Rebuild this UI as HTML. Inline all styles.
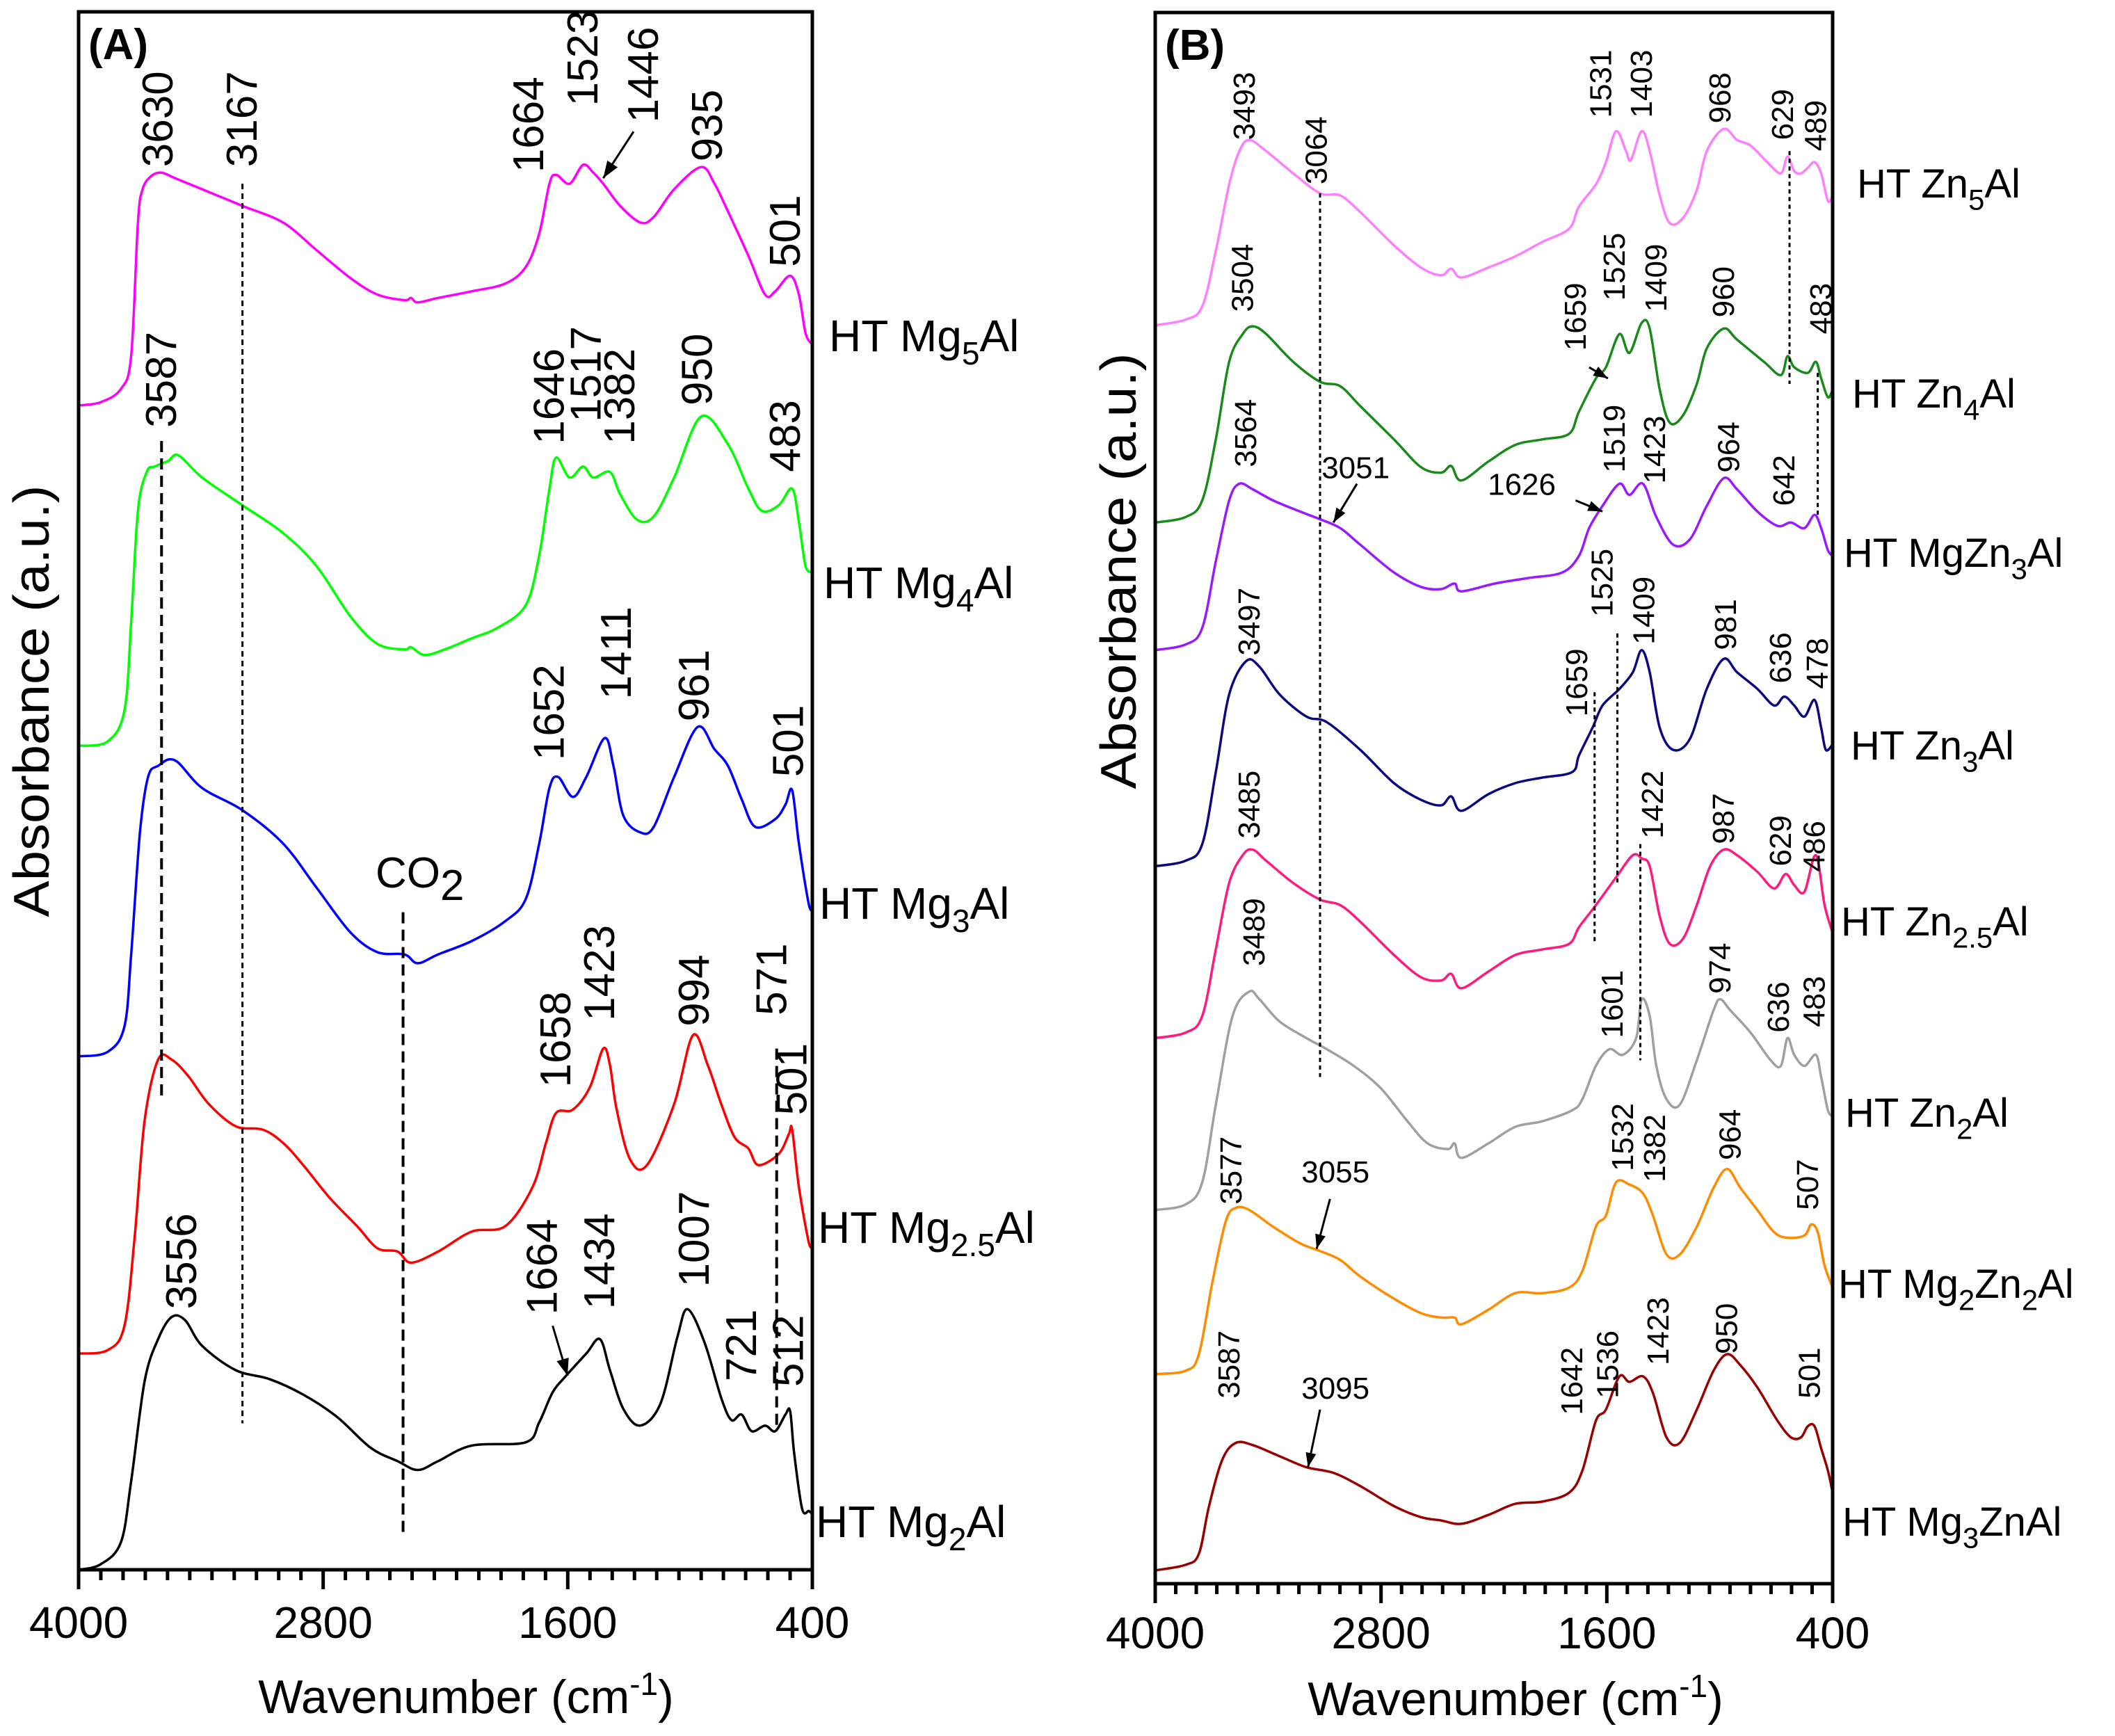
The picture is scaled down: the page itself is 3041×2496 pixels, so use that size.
<!DOCTYPE html>
<html><head><meta charset="utf-8"><style>
html,body{margin:0;padding:0;background:#fff;}
svg{display:block;}
text{font-family:"Liberation Sans",Arial,sans-serif;fill:#000;}
</style></head><body>
<svg id="chart" width="3041" height="2496" viewBox="0 0 3041 2496" xmlns="http://www.w3.org/2000/svg">
<rect x="0" y="0" width="3041" height="2496" fill="#fff"/>
<g id="panelA"></g>
<g id="panelB"></g>
</svg>
<script>
// ---------- Panel A data ----------
const aMg5W=[4000,3891,3792,3742,3709,3686,3643,3593,3527,3394,3196,2997,2832,2667,2534,2402,2369,2336,2236,2071,1906,1806,1740,1690,1657,1591,1525,1475,1426,1343,1244,1178,1078,946,880,814,714,632,582,509,466,433,400];
const aMg5V=[10.50,10.53,10.65,10.95,12.15,12.45,12.57,12.60,12.55,12.45,12.30,12.15,11.90,11.65,11.50,11.45,11.47,11.43,11.47,11.53,11.60,11.75,12.05,12.50,12.58,12.50,12.67,12.60,12.50,12.30,12.15,12.20,12.45,12.65,12.50,12.25,11.85,11.50,11.53,11.67,11.50,11.15,11.05];
const aMg4W=[4000,3858,3775,3742,3709,3666,3626,3560,3510,3394,3196,2997,2832,2667,2534,2402,2369,2303,2203,2071,1939,1806,1740,1690,1657,1591,1525,1475,1393,1343,1260,1178,1078,946,814,714,648,565,499,466,433,400];
const aMg4V=[7.43,7.47,7.75,8.55,9.55,9.90,9.95,10.00,10.05,9.85,9.60,9.35,9.05,8.60,8.35,8.30,8.32,8.25,8.30,8.40,8.50,8.70,9.15,9.75,10.03,9.85,9.95,9.85,9.90,9.70,9.47,9.50,9.85,10.40,10.15,9.75,9.55,9.60,9.75,9.45,9.05,9.00];
const aMg3W=[4000,3858,3775,3742,3699,3659,3610,3527,3394,3196,2997,2832,2667,2534,2402,2336,2236,2071,1906,1806,1740,1690,1647,1575,1509,1419,1376,1327,1244,1178,1078,963,880,814,747,681,582,532,499,466,417,400];
const aMg3V=[4.63,4.67,4.90,5.55,6.65,7.15,7.25,7.30,7.05,6.85,6.55,6.15,5.75,5.57,5.55,5.47,5.55,5.67,5.85,6.05,6.55,7.05,7.15,6.97,7.15,7.50,7.25,6.80,6.65,6.70,7.15,7.60,7.40,7.25,6.95,6.70,6.77,6.90,7.03,6.55,6.00,5.97];
const aMg25W=[4000,3858,3775,3725,3676,3610,3543,3461,3361,3229,3097,2997,2898,2766,2634,2534,2435,2369,2236,2071,1906,1773,1707,1657,1575,1492,1426,1393,1360,1294,1211,1078,986,913,847,781,714,665,565,515,499,466,417,400];
const aMg25V=[1.95,1.98,2.20,3.00,4.05,4.60,4.60,4.45,4.20,4.00,3.97,3.85,3.65,3.35,3.10,2.90,2.87,2.77,2.87,3.05,3.10,3.45,3.85,4.12,4.15,4.35,4.70,4.55,4.15,3.70,3.65,4.20,4.82,4.55,4.20,3.90,3.80,3.65,3.75,3.93,3.97,3.45,2.95,2.93];
const aMg2W=[4000,3891,3792,3742,3676,3610,3543,3477,3394,3229,3064,2898,2733,2567,2435,2336,2236,2071,1806,1740,1674,1608,1509,1442,1393,1327,1244,1145,1062,1012,929,847,797,747,698,632,582,532,509,489,450,417,400];
const aMg2V=[0,0.05,0.25,0.80,1.70,2.08,2.28,2.25,2.02,1.80,1.72,1.58,1.38,1.10,0.98,0.90,0.98,1.12,1.15,1.33,1.60,1.75,1.95,2.08,1.80,1.45,1.30,1.50,2.10,2.35,2.05,1.55,1.35,1.40,1.25,1.30,1.25,1.40,1.43,1.05,0.55,0.53,0.50];

// ---------- Panel B data ----------
const bZn5W=[4000,3839,3750,3678,3607,3553,3500,3410,3267,3124,3017,2910,2731,2588,2481,2427,2373,2230,2087,1944,1801,1748,1658,1605,1551,1498,1472,1415,1372,1319,1265,1194,1122,1069,979,908,836,747,675,640,604,568,532,496,461,425,400];
const bZn5V=[11.35,11.40,11.52,12.02,12.62,12.92,13.02,12.92,12.72,12.54,12.52,12.37,12.07,11.87,11.80,11.86,11.78,11.87,11.97,12.10,12.22,12.42,12.62,12.82,13.10,12.92,12.84,13.10,12.92,12.52,12.27,12.32,12.57,12.92,13.12,13.02,12.97,12.82,12.72,12.87,12.74,12.72,12.77,12.82,12.72,12.47,12.52];
const bZn4W=[4000,3839,3750,3678,3607,3535,3482,3410,3267,3124,3017,2910,2731,2588,2481,2427,2373,2230,2087,1944,1801,1748,1658,1605,1533,1480,1415,1372,1319,1265,1194,1122,1069,979,908,765,675,640,604,532,489,461,425,400];
const bZn4V=[9.57,9.62,9.77,10.32,11.02,11.27,11.34,11.27,11.02,10.84,10.80,10.62,10.32,10.07,10.02,10.08,9.95,10.12,10.27,10.32,10.37,10.57,10.87,10.97,11.27,11.10,11.37,11.32,10.77,10.47,10.54,10.82,11.14,11.32,11.22,11.02,10.90,11.07,10.97,10.92,11.02,10.87,10.70,10.77];
const bMgZn3W=[4000,3839,3750,3678,3607,3553,3482,3374,3231,3124,3017,2910,2731,2588,2481,2409,2373,2195,2016,1837,1748,1694,1623,1533,1480,1408,1337,1247,1158,1069,979,908,800,693,622,550,496,461,425,400];
const bMgZn3V=[8.42,8.47,8.62,9.22,9.77,9.92,9.87,9.77,9.67,9.60,9.52,9.37,9.12,8.99,8.97,9.02,8.95,9.02,9.07,9.12,9.27,9.52,9.72,9.92,9.82,9.92,9.62,9.37,9.42,9.72,9.97,9.87,9.67,9.54,9.57,9.52,9.64,9.52,9.32,9.27];
const bZn3W=[4000,3839,3750,3678,3607,3517,3446,3339,3196,3088,2910,2731,2588,2481,2427,2373,2230,2087,1944,1784,1748,1676,1623,1533,1462,1415,1372,1319,1247,1158,1069,979,908,800,711,657,604,550,496,461,436,400];
const bZn3V=[6.47,6.52,6.67,7.32,8.02,8.32,8.27,8.02,7.82,7.77,7.52,7.22,7.07,7.02,7.10,6.97,7.12,7.22,7.27,7.32,7.47,7.72,7.92,8.07,8.22,8.42,8.22,7.72,7.52,7.62,8.07,8.34,8.22,8.07,7.92,8.00,7.92,7.82,7.97,7.72,7.52,7.57];
const bZn25W=[4000,3839,3750,3678,3607,3535,3482,3410,3267,3124,3017,2910,2731,2588,2481,2427,2373,2230,2087,1944,1801,1748,1658,1551,1462,1415,1372,1319,1265,1194,1122,1051,979,908,800,711,650,604,550,489,443,400];
const bZn25V=[4.92,4.97,5.12,5.72,6.32,6.57,6.62,6.52,6.32,6.17,6.12,5.97,5.67,5.47,5.44,5.50,5.37,5.52,5.67,5.72,5.77,5.92,6.12,6.37,6.57,6.54,6.47,6.02,5.77,5.82,6.12,6.47,6.62,6.57,6.42,6.27,6.40,6.30,6.24,6.57,6.12,5.87];
const bZn2W=[4000,3839,3750,3678,3589,3500,3446,3339,3196,3088,2945,2802,2659,2552,2445,2409,2373,2230,2087,1944,1784,1730,1658,1587,1515,1444,1415,1372,1337,1283,1212,1122,1033,997,943,836,729,675,640,604,550,489,461,425,400];
const bZn2V=[3.37,3.42,3.62,4.32,5.12,5.34,5.27,5.07,4.92,4.82,4.67,4.47,4.17,3.97,3.92,3.97,3.84,3.97,4.12,4.17,4.27,4.37,4.67,4.82,4.77,4.92,5.27,5.12,4.67,4.37,4.32,4.72,5.17,5.27,5.17,4.97,4.72,4.67,4.92,4.77,4.67,4.77,4.57,4.27,4.22];
const bMg2Zn2W=[4000,3839,3768,3696,3625,3571,3500,3374,3231,3124,3017,2910,2731,2588,2481,2409,2373,2230,2087,1944,1801,1730,1658,1605,1551,1480,1408,1355,1283,1212,1122,1033,961,890,800,711,640,550,514,479,443,400];
const bMg2Zn2V=[1.89,1.92,2.07,2.72,3.27,3.39,3.37,3.22,3.07,3.00,2.92,2.77,2.57,2.44,2.40,2.40,2.34,2.47,2.62,2.62,2.67,2.82,3.22,3.32,3.62,3.60,3.52,3.32,2.97,2.97,3.22,3.57,3.74,3.57,3.37,3.17,3.12,3.14,3.24,3.17,2.87,2.67];
const bMg3ZnW=[4000,3839,3768,3714,3643,3571,3482,3339,3196,3053,2910,2731,2588,2481,2373,2230,2087,1944,1801,1730,1658,1605,1533,1480,1408,1355,1283,1212,1122,1033,961,890,800,693,622,568,532,496,461,425,400];
const bMg3ZnV=[0.12,0.17,0.27,0.70,1.12,1.27,1.25,1.15,1.05,1.00,0.88,0.70,0.60,0.57,0.54,0.62,0.72,0.74,0.82,1.02,1.47,1.57,1.87,1.82,1.87,1.72,1.32,1.27,1.57,1.92,2.07,1.97,1.77,1.47,1.32,1.32,1.42,1.42,1.22,1.02,0.82];

const xTicks=[4000,2800,1600,400];
const xTickLabels=["4000","2800","1600","400"];

// peak labels: [text, wavenumber, value]
const aPeaks=[["3630",3610,12.65],["3167",3196,12.65],["1664",1790,12.60],["1523",1525,13.20],["1446",1227,13.05],["935",913,12.70],["501",532,11.75],
["3587",3593,10.30],["1646",1690,10.15],["1517",1509,10.35],["1382",1343,10.15],["950",963,10.50],["483",532,9.90],
["1652",1690,7.30],["1411",1360,7.85],["961",979,7.65],["501",516,7.15],
["1658",1657,4.35],["1423",1442,4.95],["994",979,4.90],["571",598,5.00],["501",499,4.10],
["3556",3494,2.35],["1664",1724,2.30],["1434",1442,2.35],["1007",979,2.55],["721",747,1.70],["512",516,1.65]];
const bPeaks=[["3493",3525,13.02],["3064",3142,12.62],["1531",1630,13.22],["1403",1415,13.22],["968",997,13.17],["629",665,13.02],["489",489,12.92],
["3504",3535,11.47],["1659",1766,11.12],["1525",1558,11.57],["1409",1337,11.47],["960",979,11.42],["483",461,11.27],
["3564",3517,10.07],["1519",1558,10.02],["1423",1344,9.92],["964",950,10.02],["642",657,9.72],
["3497",3500,8.37],["1525",1623,8.72],["1409",1401,8.47],["981",968,8.42],["636",675,8.12],["478",479,8.07],["1659",1758,7.82],
["3485",3500,6.72],["1422",1355,6.72],["987",979,6.67],["629",675,6.47],["486",496,6.42],
["3489",3474,5.57],["1601",1569,4.92],["974",997,5.32],["636",686,4.97],["483",496,5.02],
["3577",3596,3.42],["1532",1515,3.72],["1382",1344,3.62],["964",943,3.82],["507",532,3.37],
["3587",3607,1.67],["1642",1784,1.52],["1536",1594,1.67],["1423",1326,1.97],["950",961,2.07],["501",522,1.67]];
const bFlat=[["3051",2935,9.97],["1626",2052,9.82],["3055",3042,3.62],["3095",3042,1.67]];
// arrows [w1,v1,w2,v2]
const aArrows=[[1277,12.97,1426,12.55],[1674,2.20,1601,1.75]];
const bArrows=[[2928,9.92,3053,9.57],[1766,9.77,1623,9.67],[1694,10.97,1594,10.87],[3071,3.47,3142,3.02],[3124,1.57,3188,1.05]];
// reference lines [w, vTop, vBottom, style]
const aLines=[[3196,12.50,1.32,"dot"],[3593,10.18,4.25,"dash"],[2408,5.93,0.30,"dash"],[575,4.70,1.25,"dash"]];
const bLines=[[3124,12.54,4.57,"dot"],[629,12.92,10.82,"dot"],[479,10.92,9.62,"dot"],[1665,8.04,5.77,"dot"],[1544,8.57,6.32,"dot"],[1422,6.67,4.72,"dot"]];

const NS="http://www.w3.org/2000/svg";
function mk(parent,tag,attrs){const e=document.createElementNS(NS,tag);for(const k in attrs)e.setAttribute(k,attrs[k]);parent.appendChild(e);return e;}
function smoothPath(pts){let d="M"+pts[0][0].toFixed(1)+","+pts[0][1].toFixed(1);
 for(let i=0;i<pts.length-1;i++){const p0=pts[Math.max(0,i-1)],p1=pts[i],p2=pts[i+1],p3=pts[Math.min(pts.length-1,i+2)];
  const c1x=p1[0]+(p2[0]-p0[0])/6,c1y=p1[1]+(p2[1]-p0[1])/6,c2x=p2[0]-(p3[0]-p1[0])/6,c2y=p2[1]-(p3[1]-p1[1])/6;
  d+=" C"+c1x.toFixed(1)+","+c1y.toFixed(1)+" "+c2x.toFixed(1)+","+c2y.toFixed(1)+" "+p2[0].toFixed(1)+","+p2[1].toFixed(1);}
 return d;}

function drawPanel(g,cfg){
 const {L,R,T,B,vmax}=cfg;
 const xs=w=>L+(4000-w)/3600*(R-L);
 const ys=v=>B-v/vmax*(B-T);
 cfg.series.forEach(s=>{
  const pts=s.w.map((w,i)=>[xs(w),ys(s.v[i])]);
  const p=mk(g,"path",{d:smoothPath(pts),fill:"none",stroke:s.color,"stroke-width":cfg.sw,"stroke-linejoin":"round"});
  
  
  const t=mk(g,"text",{x:s.lx,y:s.ly,"font-size":cfg.lfs});
  
  
  s.parts.forEach(pt=>{const ts=mk(t,"tspan",{});ts.textContent=pt[0];
   if(pt[1]==="sub"){ts.setAttribute("dy",cfg.lfs*0.3);ts.setAttribute("font-size",cfg.lfs*0.72);}
   else if(pt[1]==="back"){ts.setAttribute("dy",-cfg.lfs*0.3);}});
 });
 cfg.lines.forEach(l=>{const e=mk(g,"line",{x1:xs(l[0]),x2:xs(l[0]),y1:ys(l[1]),y2:ys(l[2]),stroke:"#000",
   "stroke-width":l[3]==="dash"?4:3,"stroke-dasharray":l[3]==="dash"?"16,9":(cfg.dotDash)});
  
  });
 cfg.peaks.forEach(p=>{const x=xs(p[1]),y=ys(p[2]);
  const t=mk(g,"text",{x:x,y:y,"font-size":cfg.pfs,"dominant-baseline":"central",transform:`rotate(-90 ${x} ${y})`});
  t.textContent=p[0];
  
  });
 (cfg.flat||[]).forEach(p=>{const t=mk(g,"text",{x:xs(p[1]),y:ys(p[2]),"font-size":cfg.pfs,"text-anchor":"middle"});
  t.textContent=p[0];
  
  });
 cfg.arrows.forEach(a=>{const x1=xs(a[0]),y1=ys(a[1]),x2=xs(a[2]),y2=ys(a[3]);
  const e=mk(g,"line",{x1,y1,x2,y2,stroke:"#000","stroke-width":3});
  
  
  const ang=Math.atan2(y2-y1,x2-x1),h=cfg.ah;
  const p1=[x2-h*Math.cos(ang-0.35),y2-h*Math.sin(ang-0.35)],p2=[x2-h*Math.cos(ang+0.35),y2-h*Math.sin(ang+0.35)];
  const hd=mk(g,"polygon",{points:`${x2},${y2} ${p1[0]},${p1[1]} ${p2[0]},${p2[1]}`,fill:"#000"});
  
  });
 const fr=mk(g,"rect",{x:L,y:T,width:R-L,height:B-T,fill:"none",stroke:"#000","stroke-width":5});
 
 
 for(let k=0;k<=33;k++){const w=4000-k*1200/11;const major=k%11===0;const x=xs(w);
  const tk=mk(g,"line",{x1:x,x2:x,y1:B,y2:B+(major?28:15),stroke:"#000","stroke-width":5});
  
  }
 xTicks.forEach((w,i)=>{const t=mk(g,"text",{x:xs(w),y:cfg.tickY,"font-size":64,"text-anchor":"middle"});
  t.textContent=xTickLabels[i];
  
  });
 const xt=mk(g,"text",{x:cfg.xtX,y:cfg.xtY,"font-size":68,"text-anchor":"middle"});
 
 
 const a1=mk(xt,"tspan",{});a1.textContent="Wavenumber (cm";
 const a2=mk(xt,"tspan",{dy:-26,"font-size":46});a2.textContent="-1";
 const a3=mk(xt,"tspan",{dy:26});a3.textContent=")";
 const yt=mk(g,"text",{x:cfg.ytX,y:cfg.ytY,"font-size":72,"text-anchor":"middle",textLength:cfg.ytLen,lengthAdjust:"spacingAndGlyphs",transform:`rotate(-90 ${cfg.ytX} ${cfg.ytY})`});
 yt.textContent="Absorbance (a.u.)";
 
 
 const pl=mk(g,"text",{x:L+14,y:T+68,"font-size":62,"font-weight":"bold"});
 pl.textContent=cfg.title;
 
 
}

drawPanel(document.getElementById("panelA"),{
 L:113,R:1168,T:17,B:2257,vmax:14.05,sw:3.5,lfs:64,pfs:62,ah:26,dotDash:"8,6",tickY:2355,xtX:670,xtY:2463,ytX:70,ytY:1008,ytLen:621,title:"(A)",
 series:[
  {key:"mg5al",w:aMg5W,v:aMg5V,color:"#FF00FF",lx:1192,ly:505,parts:[["HT Mg",""],["5","sub"],["Al","back"]]},
  {key:"mg4al",w:aMg4W,v:aMg4V,color:"#00FF00",lx:1184,ly:860,parts:[["HT Mg",""],["4","sub"],["Al","back"]]},
  {key:"mg3al",w:aMg3W,v:aMg3V,color:"#0000FF",lx:1178,ly:1321,parts:[["HT Mg",""],["3","sub"],["Al","back"]]},
  {key:"mg2-5al",w:aMg25W,v:aMg25V,color:"#FF0000",lx:1176,ly:1787,parts:[["HT Mg",""],["2.5","sub"],["Al","back"]]},
  {key:"mg2al",w:aMg2W,v:aMg2V,color:"#000000",lx:1173,ly:2210,parts:[["HT Mg",""],["2","sub"],["Al","back"]]}],
 lines:aLines,peaks:aPeaks,arrows:aArrows,
 flat:[]
});
(function(){const g=document.getElementById("panelA");
 const t=mk(g,"text",{x:540,y:1276,"font-size":62});
 
 
 const a=mk(t,"tspan",{});a.textContent="CO";
 const b=mk(t,"tspan",{dy:18});b.textContent="2";})();

drawPanel(document.getElementById("panelB"),{
 L:1661,R:2635,T:18,B:2277,vmax:14.17,sw:3.5,lfs:58,pfs:44,ah:22,dotDash:"6,5",tickY:2370,xtX:2179,xtY:2466,ytX:1633,ytY:821,ytLen:627,title:"(B)",
 series:[
  {key:"zn5al",w:bZn5W,v:bZn5V,color:"#FF80FF",lx:2670,ly:284,parts:[["HT Zn",""],["5","sub"],["Al","back"]]},
  {key:"zn4al",w:bZn4W,v:bZn4V,color:"#1A8A1A",lx:2663,ly:586,parts:[["HT Zn",""],["4","sub"],["Al","back"]]},
  {key:"mgzn3al",w:bMgZn3W,v:bMgZn3V,color:"#9A1AFF",lx:2651,ly:815,parts:[["HT MgZn",""],["3","sub"],["Al","back"]]},
  {key:"zn3al",w:bZn3W,v:bZn3V,color:"#0A0A80",lx:2661,ly:1092,parts:[["HT Zn",""],["3","sub"],["Al","back"]]},
  {key:"zn2-5al",w:bZn25W,v:bZn25V,color:"#FF1A80",lx:2647,ly:1345,parts:[["HT Zn",""],["2.5","sub"],["Al","back"]]},
  {key:"zn2al",w:bZn2W,v:bZn2V,color:"#A0A0A0",lx:2653,ly:1620,parts:[["HT Zn",""],["2","sub"],["Al","back"]]},
  {key:"mg2zn2al",w:bMg2Zn2W,v:bMg2Zn2V,color:"#FF8C00",lx:2643,ly:1866,parts:[["HT Mg",""],["2","sub"],["Zn","back"],["2","sub"],["Al","back"]]},
  {key:"mg3znal",w:bMg3ZnW,v:bMg3ZnV,color:"#990000",lx:2649,ly:2208,parts:[["HT Mg",""],["3","sub"],["ZnAl","back"]]}],
 lines:bLines,peaks:bPeaks,arrows:bArrows,flat:bFlat
});
</script>
</body></html>
